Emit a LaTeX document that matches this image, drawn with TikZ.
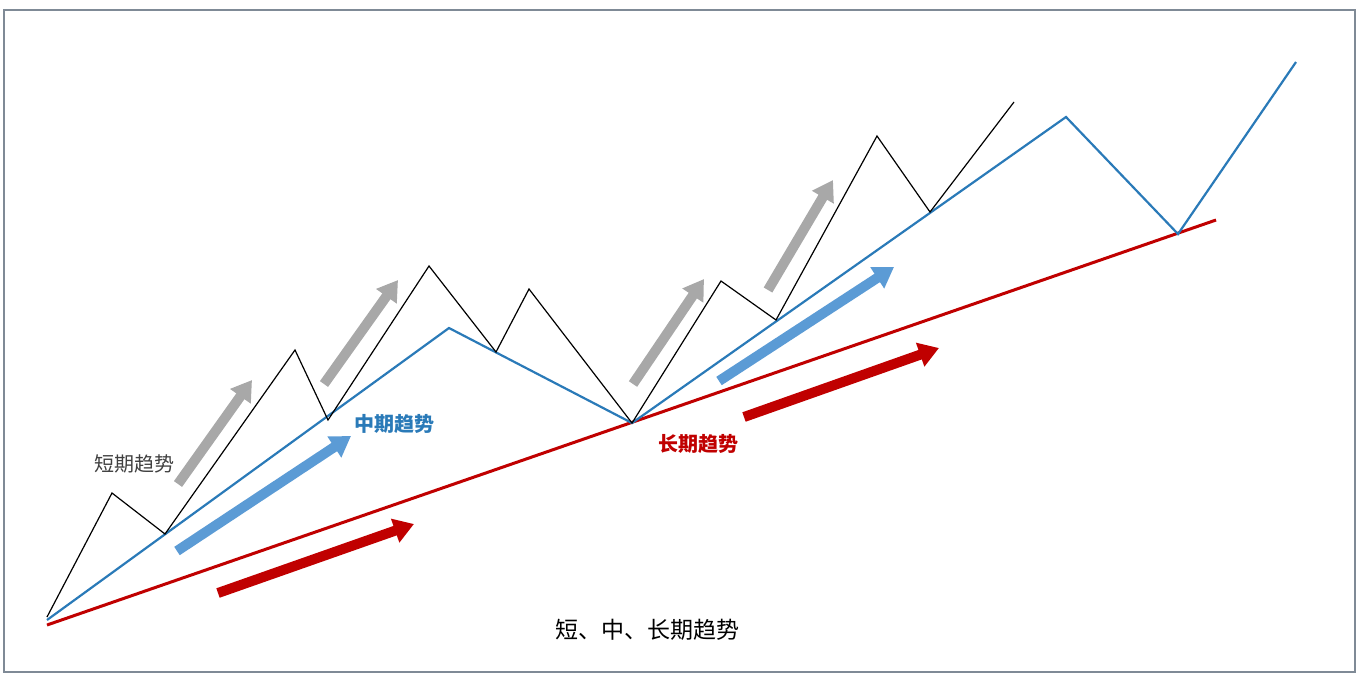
\documentclass[tikz,border=0pt]{standalone}
\usepackage{fontspec}
\newfontfamily\cjk{Noto Sans CJK SC}
\usetikzlibrary{arrows.meta}
\definecolor{frameC}{HTML}{7F8A96}
\definecolor{midC}{HTML}{2A7AB8}
\definecolor{longC}{HTML}{C00000}
\definecolor{grayA}{HTML}{A8A8A8}
\definecolor{blueA}{HTML}{5B9BD5}
\definecolor{redA}{HTML}{C00000}
\tikzset{
  shortline/.style={draw=black,line width=0.6pt,line join=miter},
  midline/.style={draw=midC,line width=1.1pt},
  longline/.style={draw=longC,line width=1.5pt},
  fatarrow/.style={line width=5pt,-{Triangle[length=10pt,width=12pt]}},
  lbl/.style={font=\cjk\fontsize{10}{12}\selectfont,inner sep=0pt}
}
\begin{document}
\begin{tikzpicture}[x=0.5pt,y=-0.5pt]
\useasboundingbox (0,0) rectangle (1364,682);
\draw[frameC,line width=0.8pt] (4,10) rectangle (1355,672);
% coordinates
\coordinate (s0) at (47,617);
\coordinate (s1) at (112,493);
\coordinate (s2) at (165,534);
\coordinate (s3) at (295,350);
\coordinate (s4) at (328,420);
\coordinate (s5) at (429,266);
\coordinate (s6) at (496,352);
\coordinate (s7) at (529,289);
\coordinate (s8) at (632,423);
\coordinate (s9) at (721,281);
\coordinate (s10) at (776,320);
\coordinate (s11) at (877,136);
\coordinate (s12) at (930,212);
\coordinate (s13) at (1014,102);
\coordinate (m0) at (47,620);
\coordinate (m1) at (449,328);
\coordinate (m2) at (632,423);
\coordinate (m3) at (1066,117);
\coordinate (m4) at (1178,234);
\coordinate (m5) at (1296,62);
\coordinate (l0) at (47,625);
\coordinate (l1) at (1216,220);
% lines
\draw[longline] (l0) -- (l1);
\draw[midline] (m0) -- (m1) -- (m2) -- (m3) -- (m4) -- (m5);
\draw[shortline] (s0) -- (s1) -- (s2) -- (s3) -- (s4) -- (s5) -- (s6) -- (s7) -- (s8) -- (s9) -- (s10) -- (s11) -- (s12) -- (s13);
% gray arrows
\coordinate (g1a) at (178,484); \coordinate (g1b) at (252,380);
\coordinate (g2a) at (324,384); \coordinate (g2b) at (398,280);
\coordinate (g3a) at (633,384); \coordinate (g3b) at (704,279);
\coordinate (g4a) at (768,290); \coordinate (g4b) at (833,180);
\draw[fatarrow,grayA] (g1a) -- (g1b);
\draw[fatarrow,grayA] (g2a) -- (g2b);
\draw[fatarrow,grayA] (g3a) -- (g3b);
\draw[fatarrow,grayA] (g4a) -- (g4b);
% blue arrows
\coordinate (b1a) at (177,551); \coordinate (b1b) at (351,436);
\coordinate (b2a) at (719,381); \coordinate (b2b) at (894,267);
\draw[fatarrow,blueA] (b1a) -- (b1b);
\draw[fatarrow,blueA] (b2a) -- (b2b);
% red arrows
\coordinate (r1a) at (218,593); \coordinate (r1b) at (414,524);
\coordinate (r2a) at (744,417); \coordinate (r2b) at (939,348);
\draw[fatarrow,redA] (r1a) -- (r1b);
\draw[fatarrow,redA] (r2a) -- (r2b);
% labels
\node[lbl,text=black!75] (tshort) at (134,464) {短期趋势};
\node[lbl,text=midC,font=\cjk\bfseries\fontsize{10}{12}\selectfont] (tmid) at (394,424) {中期趋势};
\node[lbl,text=longC,font=\cjk\bfseries\fontsize{10}{12}\selectfont] (tlong) at (698,444) {长期趋势};
\node[lbl,font=\cjk\fontsize{11.5}{14}\selectfont] (title) at (647,630) {短、中、长期趋势};
\end{tikzpicture}
\end{document}
